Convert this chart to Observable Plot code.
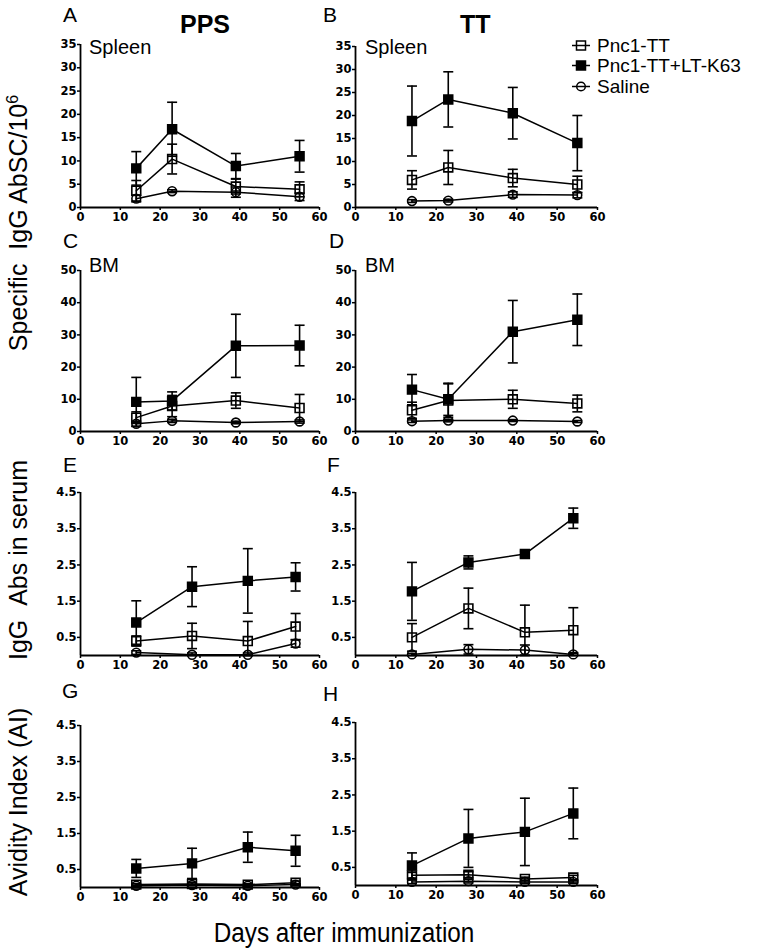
<!DOCTYPE html>
<html><head><meta charset="utf-8">
<script src="https://cdn.jsdelivr.net/npm/d3@7"></script>
<script src="https://cdn.jsdelivr.net/npm/@observablehq/plot@0.6"></script>
<style>
body{margin:0;background:#fff;}
#fig{position:relative;width:769px;height:952px;font-family:"Liberation Sans",Arial,sans-serif;color:#000;overflow:hidden;background:#fff}
.abs{position:absolute;white-space:nowrap;line-height:1}
.rot{position:absolute;white-space:nowrap;line-height:1;transform:translate(-50%,-50%) rotate(-90deg);font-size:25px}
</style></head><body><div id="fig"></div>
<script>
// ---- data ----
const seriesNames = ["Pnc1-TT", "Pnc1-TT+LT-K63", "Saline"];
const daysCells = [14, 23, 39, 55];
const daysSerum = [14, 28, 42, 54];
const xTicks = [0, 10, 20, 30, 40, 50, 60];
const yTicksSpleen = [0, 5, 10, 15, 20, 25, 30, 35];
const yTicksBM = [0, 10, 20, 30, 40, 50];
const yTicksAb = [0.5, 1.5, 2.5, 3.5, 4.5];

// A: PPS, Spleen
const A_TT = [3.6, 10.4, 4.5, 3.9],   A_TT_err = [2.2, 3.2, 1.6, 1.6];
const A_K63 = [8.4, 16.8, 8.9, 11.0], A_K63_err = [3.6, 5.8, 2.7, 3.4];
const A_Sal = [1.9, 3.5, 3.3, 2.3],   A_Sal_err = [0.7, 0.3, 1.1, 0.8];
// B: TT, Spleen
const B_TT = [6.0, 8.7, 6.4, 5.0],     B_TT_err = [2.0, 3.7, 1.9, 1.8];
const B_K63 = [18.8, 23.5, 20.5, 14.0], B_K63_err = [7.6, 6.0, 5.6, 6.0];
const B_Sal = [1.4, 1.5, 2.8, 2.7],    B_Sal_err = [0.3, 0.3, 0.6, 0.6];
// C: PPS, BM
const C_TT = [4.3, 7.9, 9.6, 7.3],     C_TT_err = [1.8, 3.3, 2.4, 4.2];
const C_K63 = [9.2, 9.5, 26.6, 26.7],  C_K63_err = [7.6, 2.8, 9.8, 6.3];
const C_Sal = [2.4, 3.3, 2.8, 3.1],    C_Sal_err = [0.8, 0.5, 0.4, 0.5];
// D: TT, BM
const D_TT = [6.6, 9.6, 10.0, 8.7],    D_TT_err = [2.5, 5.2, 2.8, 2.6];
const D_K63 = [13.0, 10.0, 31.0, 34.7], D_K63_err = [4.7, 5.0, 9.7, 8.0];
const D_Sal = [3.2, 3.4, 3.4, 3.1],    D_Sal_err = [0.4, 0.4, 0.3, 0.3];
// E: PPS, serum IgG
const E_TT = [0.40, 0.54, 0.40, 0.80], E_TT_err = [0.14, 0.35, 0.54, 0.36];
const E_K63 = [0.91, 1.90, 2.06, 2.17], E_K63_err = [0.60, 0.55, 0.89, 0.39];
const E_Sal = [0.08, 0.02, 0.02, 0.33], E_Sal_err = [0.05, 0.05, 0.05, 0.10];
// F: TT, serum IgG
const F_TT = [0.50, 1.30, 0.64, 0.70], F_TT_err = [0.38, 0.56, 0.75, 0.62];
const F_K63 = [1.77, 2.57, 2.80, 3.79], F_K63_err = [0.80, 0.18, 0.08, 0.28];
const F_Sal = [0.03, 0.17, 0.15, 0.03], F_Sal_err = [0.03, 0.13, 0.14, 0.03];
// G: PPS, avidity
const G_TT = [0.08, 0.10, 0.08, 0.13], G_TT_err = [0.03, 0.04, 0.03, 0.05];
const G_K63 = [0.53, 0.67, 1.12, 1.02], G_K63_err = [0.25, 0.42, 0.42, 0.43];
const G_Sal = [0.05, 0.07, 0.05, 0.08], G_Sal_err = [0.02, 0.02, 0.02, 0.03];
// H: TT, avidity
const H_TT = [0.28, 0.30, 0.18, 0.22], H_TT_err = [0.08, 0.08, 0.05, 0.06];
const H_K63 = [0.55, 1.30, 1.48, 1.99], H_K63_err = [0.35, 0.80, 0.93, 0.70];
const H_Sal = [0.10, 0.12, 0.10, 0.10], H_Sal_err = [0.05, 0.05, 0.04, 0.04];

// ---- layout ----
const fig = document.getElementById("fig");
function addText(txt, left, top, css) {
  const d = document.createElement("div");
  d.className = "abs";
  d.innerHTML = txt;
  d.style.left = left + "px"; d.style.top = top + "px";
  Object.assign(d.style, css || {});
  fig.appendChild(d);
  return d;
}

const cap = {draw(ctx, size) { const w = Math.sqrt(size / Math.PI); ctx.moveTo(-w, 0); ctx.lineTo(w, 0); }};
const styles = [
  {symbol: "square", fill: "none", r: 5},
  {symbol: "square", fill: "black", r: 5},
  {symbol: "circle", fill: "none", r: 4.4}
];

const panels = [
  {L: "A", left: true,  top: 44,  bot: 207, ymax: 35,  yt: yTicksSpleen, fmt: "d",   days: daysCells, s: [[A_TT, A_TT_err], [A_K63, A_K63_err], [A_Sal, A_Sal_err]]},
  {L: "B", left: false, top: 46,  bot: 207, ymax: 35,  yt: yTicksSpleen, fmt: "d",   days: daysCells, s: [[B_TT, B_TT_err], [B_K63, B_K63_err], [B_Sal, B_Sal_err]]},
  {L: "C", left: true,  top: 270, bot: 431, ymax: 50,  yt: yTicksBM,     fmt: "d",   days: daysCells, s: [[C_TT, C_TT_err], [C_K63, C_K63_err], [C_Sal, C_Sal_err]]},
  {L: "D", left: false, top: 270, bot: 431, ymax: 50,  yt: yTicksBM,     fmt: "d",   days: daysCells, s: [[D_TT, D_TT_err], [D_K63, D_K63_err], [D_Sal, D_Sal_err]]},
  {L: "E", left: true,  top: 492, bot: 655, ymax: 4.5, yt: yTicksAb,     fmt: ".1f", days: daysSerum, s: [[E_TT, E_TT_err], [E_K63, E_K63_err], [E_Sal, E_Sal_err]]},
  {L: "F", left: false, top: 492, bot: 655, ymax: 4.5, yt: yTicksAb,     fmt: ".1f", days: daysSerum, s: [[F_TT, F_TT_err], [F_K63, F_K63_err], [F_Sal, F_Sal_err]]},
  {L: "G", left: true,  top: 725, bot: 887, ymax: 4.5, yt: yTicksAb,     fmt: ".1f", days: daysSerum, s: [[G_TT, G_TT_err], [G_K63, G_K63_err], [G_Sal, G_Sal_err]]},
  {L: "H", left: false, top: 722, bot: 885, ymax: 4.5, yt: yTicksAb,     fmt: ".1f", days: daysSerum, s: [[H_TT, H_TT_err], [H_K63, H_K63_err], [H_Sal, H_Sal_err]]}
];

for (const p of panels) {
  const rows = [];
  p.s.forEach(([vals, errs], si) => vals.forEach((v, i) => rows.push({
    series: seriesNames[si], day: p.days[i], value: v,
    lo: Math.max(0, v - errs[i]), hi: v + errs[i]
  })));
  const marks = [
    Plot.ruleX([0], {stroke: "black", strokeWidth: 1.8}),
    Plot.ruleY([0], {stroke: "black", strokeWidth: 1.8}),
    Plot.axisX({ticks: xTicks, tickSize: 3, tickPadding: 2, tickFormat: "d", label: null, strokeWidth: 1.5}),
    Plot.axisY({ticks: p.yt, tickSize: 3, tickPadding: 1, tickFormat: p.fmt, label: null, strokeWidth: 1.5}),
    Plot.ruleX(rows, {x: "day", y1: "lo", y2: "hi", stroke: "black", strokeWidth: 1.6}),
    Plot.dot(rows, {x: "day", y: "lo", symbol: cap, r: 5, stroke: "black", strokeWidth: 1.6}),
    Plot.dot(rows, {x: "day", y: "hi", symbol: cap, r: 5, stroke: "black", strokeWidth: 1.6}),
    Plot.line(rows, {x: "day", y: "value", z: "series", stroke: "black", strokeWidth: 1.5})
  ];
  seriesNames.forEach((name, si) => {
    marks.push(Plot.dot(rows.filter(d => d.series === name), {
      x: "day", y: "value", stroke: "black", strokeWidth: 1.6, ...styles[si]
    }));
  });
  const W = p.left ? 330 : 320;
  const svg = Plot.plot({
    width: W,
    height: p.bot - p.top + 34,
    marginTop: 12, marginBottom: 22,
    marginLeft: p.left ? 80 : 65,
    marginRight: p.left ? 11 : 13,
    x: {domain: [0, 60]},
    y: {domain: [0, p.ymax]},
    style: {fontSize: "11.5px", fontWeight: "bold", fontFamily: "'DejaVu Sans', sans-serif", color: "black", background: "transparent", overflow: "visible"},
    marks
  });
  svg.style.position = "absolute";
  svg.style.left = (p.left ? 0 : 290) + "px";
  svg.style.top = (p.top - 12) + "px";
  fig.appendChild(svg);
}

// panel letters
const letterPos = {A: [63, 4], B: [323, 4], C: [63, 230], D: [329, 230], E: [63, 454], F: [327, 454], G: [62, 680], H: [323, 683]};
for (const [k, [x, y]] of Object.entries(letterPos)) addText(k, x, y, {fontSize: "21px"});

addText("PPS", 180, 12, {fontSize: "25px", fontWeight: "bold"});
addText("TT", 460, 12, {fontSize: "25px", fontWeight: "bold"});
addText("Spleen", 89, 37, {fontSize: "20px"});
addText("Spleen", 365, 37, {fontSize: "20px"});
addText("BM", 89, 255, {fontSize: "20px"});
addText("BM", 365, 255, {fontSize: "20px"});

// axis titles
function addRot(html, cx, cy) {
  const d = document.createElement("div");
  d.className = "rot"; d.innerHTML = html;
  d.style.left = cx + "px"; d.style.top = cy + "px";
  fig.appendChild(d);
}
addRot("Specific&nbsp;&nbsp;IgG AbSC/10<sup style='font-size:16px;vertical-align:9px'>6</sup>", 18, 223);
addRot("IgG&nbsp;&nbsp;Abs in serum", 18, 560);
addRot("Avidity Index (AI)", 18, 802);
addText("Days after immunization", 344, 920, {fontSize: "27px", transform: "translateX(-50%) scaleX(0.9)"});

// legend
seriesNames.forEach((name, i) => {
  const cy = 45 + i * 20.5;
  const st = styles[i];
  const sym = st.symbol === "square"
    ? `<rect x="5.5" y="3" width="9" height="9" fill="${st.fill}" stroke="black" stroke-width="1.5"/>`
    : `<circle cx="10" cy="7.5" r="4.3" fill="${st.fill}" stroke="black" stroke-width="1.5"/>`;
  const row = document.createElement("div");
  row.className = "abs";
  row.style.left = "571px"; row.style.top = (cy - 9.5) + "px";
  row.style.display = "flex"; row.style.alignItems = "center"; row.style.fontSize = "19px";
  row.style.height = "19px";
  row.innerHTML = `<svg width="20" height="15" style="margin-right:6px"><line x1="1" x2="19" y1="7.5" y2="7.5" stroke="black" stroke-width="1.5"/>${sym}</svg><span>${name}</span>`;
  fig.appendChild(row);
});
</script></body></html>
